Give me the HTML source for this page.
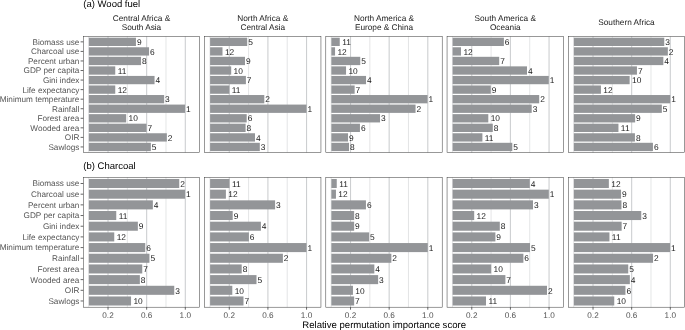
<!DOCTYPE html>
<html><head><meta charset="utf-8"><title>Relative permutation importance</title>
<style>html,body{margin:0;padding:0;background:#fff}svg{display:block}</style></head>
<body>
<svg width="685" height="330" viewBox="0 0 685 330" font-family="'Liberation Sans', Arial, sans-serif" text-rendering="geometricPrecision">
<rect width="685" height="330" fill="#fff"/>
<line x1="88.7" x2="88.7" y1="36.45" y2="152.4" stroke="#cdcfd1" stroke-width="0.55"/>
<line x1="108.02" x2="108.02" y1="36.45" y2="152.4" stroke="#cdcfd1" stroke-width="1.1"/>
<line x1="127.34" x2="127.34" y1="36.45" y2="152.4" stroke="#cdcfd1" stroke-width="0.55"/>
<line x1="146.66" x2="146.66" y1="36.45" y2="152.4" stroke="#cdcfd1" stroke-width="1.1"/>
<line x1="165.98" x2="165.98" y1="36.45" y2="152.4" stroke="#cdcfd1" stroke-width="0.55"/>
<line x1="185.3" x2="185.3" y1="36.45" y2="152.4" stroke="#cdcfd1" stroke-width="1.1"/>
<rect x="88.85" y="37.7" width="47.1" height="8.3" fill="#939598"/>
<text x="136.9" y="45.05" font-size="8.4" fill="#1a1a1a">9</text>
<line x1="80.6" x2="83.3" y1="41.85" y2="41.85" stroke="#333333" stroke-width="0.75"/>
<text x="79.35" y="44.75" font-size="8.2" fill="#555555" text-anchor="end">Biomass use</text>
<rect x="88.85" y="47.26" width="60.2" height="8.3" fill="#939598"/>
<text x="150" y="54.61" font-size="8.4" fill="#1a1a1a">6</text>
<line x1="80.6" x2="83.3" y1="51.41" y2="51.41" stroke="#333333" stroke-width="0.75"/>
<text x="79.35" y="54.3" font-size="8.2" fill="#555555" text-anchor="end">Charcoal use</text>
<rect x="88.85" y="56.81" width="52.2" height="8.3" fill="#939598"/>
<text x="142" y="64.16" font-size="8.4" fill="#1a1a1a">8</text>
<line x1="80.6" x2="83.3" y1="60.96" y2="60.96" stroke="#333333" stroke-width="0.75"/>
<text x="79.35" y="63.86" font-size="8.2" fill="#555555" text-anchor="end">Percent urban</text>
<rect x="88.85" y="66.36" width="26.4" height="8.3" fill="#939598"/>
<text x="117.65" y="73.72" font-size="8.4" fill="#1a1a1a">11</text>
<line x1="80.6" x2="83.3" y1="70.52" y2="70.52" stroke="#333333" stroke-width="0.75"/>
<text x="79.35" y="73.42" font-size="8.2" fill="#555555" text-anchor="end">GDP per capita</text>
<rect x="88.85" y="75.92" width="65.7" height="8.3" fill="#939598"/>
<text x="155.5" y="83.27" font-size="8.4" fill="#1a1a1a">4</text>
<line x1="80.6" x2="83.3" y1="80.07" y2="80.07" stroke="#333333" stroke-width="0.75"/>
<text x="79.35" y="82.97" font-size="8.2" fill="#555555" text-anchor="end">Gini index</text>
<rect x="88.85" y="85.47" width="26.4" height="8.3" fill="#939598"/>
<text x="117.65" y="92.83" font-size="8.4" fill="#1a1a1a">12</text>
<line x1="80.6" x2="83.3" y1="89.62" y2="89.62" stroke="#333333" stroke-width="0.75"/>
<text x="79.35" y="92.53" font-size="8.2" fill="#555555" text-anchor="end">Life expectancy</text>
<rect x="88.85" y="95.03" width="75.3" height="8.3" fill="#939598"/>
<text x="165.1" y="102.38" font-size="8.4" fill="#1a1a1a">3</text>
<line x1="80.6" x2="83.3" y1="99.18" y2="99.18" stroke="#333333" stroke-width="0.75"/>
<text x="79.35" y="102.08" font-size="8.2" fill="#555555" text-anchor="end">Minimum temperature</text>
<rect x="88.85" y="104.58" width="96.2" height="8.3" fill="#939598"/>
<text x="186" y="111.93" font-size="8.4" fill="#1a1a1a">1</text>
<line x1="80.6" x2="83.3" y1="108.73" y2="108.73" stroke="#333333" stroke-width="0.75"/>
<text x="79.35" y="111.63" font-size="8.2" fill="#555555" text-anchor="end">Rainfall</text>
<rect x="88.85" y="114.14" width="37.3" height="8.3" fill="#939598"/>
<text x="128.55" y="121.49" font-size="8.4" fill="#1a1a1a">10</text>
<line x1="80.6" x2="83.3" y1="118.29" y2="118.29" stroke="#333333" stroke-width="0.75"/>
<text x="79.35" y="121.19" font-size="8.2" fill="#555555" text-anchor="end">Forest area</text>
<rect x="88.85" y="123.69" width="57.7" height="8.3" fill="#939598"/>
<text x="147.5" y="131.04" font-size="8.4" fill="#1a1a1a">7</text>
<line x1="80.6" x2="83.3" y1="127.84" y2="127.84" stroke="#333333" stroke-width="0.75"/>
<text x="79.35" y="130.75" font-size="8.2" fill="#555555" text-anchor="end">Wooded area</text>
<rect x="88.85" y="133.25" width="78" height="8.3" fill="#939598"/>
<text x="167.8" y="140.6" font-size="8.4" fill="#1a1a1a">2</text>
<line x1="80.6" x2="83.3" y1="137.4" y2="137.4" stroke="#333333" stroke-width="0.75"/>
<text x="79.35" y="140.3" font-size="8.2" fill="#555555" text-anchor="end">OIR</text>
<rect x="88.85" y="142.8" width="62" height="8.3" fill="#939598"/>
<text x="151.8" y="150.15" font-size="8.4" fill="#1a1a1a">5</text>
<line x1="80.6" x2="83.3" y1="146.95" y2="146.95" stroke="#333333" stroke-width="0.75"/>
<text x="79.35" y="149.85" font-size="8.2" fill="#555555" text-anchor="end">Sawlogs</text>
<rect x="83.3" y="36.45" width="116.4" height="115.95" fill="none" stroke="#333333" stroke-width="0.5"/>
<line x1="88.7" x2="88.7" y1="177.3" y2="307.2" stroke="#cdcfd1" stroke-width="0.55"/>
<line x1="108.02" x2="108.02" y1="177.3" y2="307.2" stroke="#cdcfd1" stroke-width="1.1"/>
<line x1="127.34" x2="127.34" y1="177.3" y2="307.2" stroke="#cdcfd1" stroke-width="0.55"/>
<line x1="146.66" x2="146.66" y1="177.3" y2="307.2" stroke="#cdcfd1" stroke-width="1.1"/>
<line x1="165.98" x2="165.98" y1="177.3" y2="307.2" stroke="#cdcfd1" stroke-width="0.55"/>
<line x1="185.3" x2="185.3" y1="177.3" y2="307.2" stroke="#cdcfd1" stroke-width="1.1"/>
<rect x="88.85" y="178.97" width="90.4" height="9.05" fill="#939598"/>
<text x="180.2" y="186.7" font-size="8.4" fill="#1a1a1a">2</text>
<line x1="80.6" x2="83.3" y1="183.5" y2="183.5" stroke="#333333" stroke-width="0.75"/>
<text x="79.35" y="186.4" font-size="8.2" fill="#555555" text-anchor="end">Biomass use</text>
<rect x="88.85" y="189.66" width="96.2" height="9.05" fill="#939598"/>
<text x="186" y="197.38" font-size="8.4" fill="#1a1a1a">1</text>
<line x1="80.6" x2="83.3" y1="194.18" y2="194.18" stroke="#333333" stroke-width="0.75"/>
<text x="79.35" y="197.08" font-size="8.2" fill="#555555" text-anchor="end">Charcoal use</text>
<rect x="88.85" y="200.34" width="64" height="9.05" fill="#939598"/>
<text x="153.8" y="208.06" font-size="8.4" fill="#1a1a1a">4</text>
<line x1="80.6" x2="83.3" y1="204.86" y2="204.86" stroke="#333333" stroke-width="0.75"/>
<text x="79.35" y="207.76" font-size="8.2" fill="#555555" text-anchor="end">Percent urban</text>
<rect x="88.85" y="211.01" width="27.4" height="9.05" fill="#939598"/>
<text x="118.65" y="218.74" font-size="8.4" fill="#1a1a1a">11</text>
<line x1="80.6" x2="83.3" y1="215.54" y2="215.54" stroke="#333333" stroke-width="0.75"/>
<text x="79.35" y="218.44" font-size="8.2" fill="#555555" text-anchor="end">GDP per capita</text>
<rect x="88.85" y="221.69" width="49" height="9.05" fill="#939598"/>
<text x="138.8" y="229.42" font-size="8.4" fill="#1a1a1a">9</text>
<line x1="80.6" x2="83.3" y1="226.22" y2="226.22" stroke="#333333" stroke-width="0.75"/>
<text x="79.35" y="229.12" font-size="8.2" fill="#555555" text-anchor="end">Gini index</text>
<rect x="88.85" y="232.38" width="25.4" height="9.05" fill="#939598"/>
<text x="116.65" y="240.1" font-size="8.4" fill="#1a1a1a">12</text>
<line x1="80.6" x2="83.3" y1="236.9" y2="236.9" stroke="#333333" stroke-width="0.75"/>
<text x="79.35" y="239.8" font-size="8.2" fill="#555555" text-anchor="end">Life expectancy</text>
<rect x="88.85" y="243.05" width="56.4" height="9.05" fill="#939598"/>
<text x="146.2" y="250.78" font-size="8.4" fill="#1a1a1a">6</text>
<line x1="80.6" x2="83.3" y1="247.58" y2="247.58" stroke="#333333" stroke-width="0.75"/>
<text x="79.35" y="250.48" font-size="8.2" fill="#555555" text-anchor="end">Minimum temperature</text>
<rect x="88.85" y="253.73" width="60.6" height="9.05" fill="#939598"/>
<text x="150.4" y="261.46" font-size="8.4" fill="#1a1a1a">5</text>
<line x1="80.6" x2="83.3" y1="258.26" y2="258.26" stroke="#333333" stroke-width="0.75"/>
<text x="79.35" y="261.16" font-size="8.2" fill="#555555" text-anchor="end">Rainfall</text>
<rect x="88.85" y="264.42" width="53.4" height="9.05" fill="#939598"/>
<text x="143.2" y="272.14" font-size="8.4" fill="#1a1a1a">7</text>
<line x1="80.6" x2="83.3" y1="268.94" y2="268.94" stroke="#333333" stroke-width="0.75"/>
<text x="79.35" y="271.84" font-size="8.2" fill="#555555" text-anchor="end">Forest area</text>
<rect x="88.85" y="275.1" width="51" height="9.05" fill="#939598"/>
<text x="140.8" y="282.82" font-size="8.4" fill="#1a1a1a">8</text>
<line x1="80.6" x2="83.3" y1="279.62" y2="279.62" stroke="#333333" stroke-width="0.75"/>
<text x="79.35" y="282.52" font-size="8.2" fill="#555555" text-anchor="end">Wooded area</text>
<rect x="88.85" y="285.78" width="85.4" height="9.05" fill="#939598"/>
<text x="175.2" y="293.5" font-size="8.4" fill="#1a1a1a">3</text>
<line x1="80.6" x2="83.3" y1="290.3" y2="290.3" stroke="#333333" stroke-width="0.75"/>
<text x="79.35" y="293.2" font-size="8.2" fill="#555555" text-anchor="end">OIR</text>
<rect x="88.85" y="296.46" width="42.2" height="9.05" fill="#939598"/>
<text x="133.45" y="304.18" font-size="8.4" fill="#1a1a1a">10</text>
<line x1="80.6" x2="83.3" y1="300.98" y2="300.98" stroke="#333333" stroke-width="0.75"/>
<text x="79.35" y="303.88" font-size="8.2" fill="#555555" text-anchor="end">Sawlogs</text>
<rect x="83.3" y="177.3" width="116.4" height="129.9" fill="none" stroke="#333333" stroke-width="0.5"/>
<line x1="108.02" x2="108.02" y1="307.2" y2="309.7" stroke="#333333" stroke-width="0.75"/>
<text x="108.02" y="317.7" font-size="8.2" fill="#555555" text-anchor="middle">0.2</text>
<line x1="146.66" x2="146.66" y1="307.2" y2="309.7" stroke="#333333" stroke-width="0.75"/>
<text x="146.66" y="317.7" font-size="8.2" fill="#555555" text-anchor="middle">0.6</text>
<line x1="185.3" x2="185.3" y1="307.2" y2="309.7" stroke="#333333" stroke-width="0.75"/>
<text x="185.3" y="317.7" font-size="8.2" fill="#555555" text-anchor="middle">1.0</text>
<text x="141.5" y="21.3" font-size="8.25" fill="#1a1a1a" text-anchor="middle">Central Africa &amp;</text>
<text x="141.5" y="29.7" font-size="8.25" fill="#1a1a1a" text-anchor="middle">South Asia</text>
<line x1="209.95" x2="209.95" y1="36.45" y2="152.4" stroke="#cdcfd1" stroke-width="0.55"/>
<line x1="229.27" x2="229.27" y1="36.45" y2="152.4" stroke="#cdcfd1" stroke-width="1.1"/>
<line x1="248.59" x2="248.59" y1="36.45" y2="152.4" stroke="#cdcfd1" stroke-width="0.55"/>
<line x1="267.91" x2="267.91" y1="36.45" y2="152.4" stroke="#cdcfd1" stroke-width="1.1"/>
<line x1="287.23" x2="287.23" y1="36.45" y2="152.4" stroke="#cdcfd1" stroke-width="0.55"/>
<line x1="306.55" x2="306.55" y1="36.45" y2="152.4" stroke="#cdcfd1" stroke-width="1.1"/>
<rect x="210.1" y="37.7" width="37.1" height="8.3" fill="#939598"/>
<text x="248.15" y="45.05" font-size="8.4" fill="#1a1a1a">5</text>
<rect x="210.1" y="47.26" width="12.4" height="8.3" fill="#939598"/>
<text x="224.9" y="54.61" font-size="8.4" fill="#1a1a1a">12</text>
<rect x="210.1" y="56.81" width="34.9" height="8.3" fill="#939598"/>
<text x="245.95" y="64.16" font-size="8.4" fill="#1a1a1a">9</text>
<rect x="210.1" y="66.36" width="21.1" height="8.3" fill="#939598"/>
<text x="233.6" y="73.72" font-size="8.4" fill="#1a1a1a">10</text>
<rect x="210.1" y="75.92" width="35.8" height="8.3" fill="#939598"/>
<text x="246.85" y="83.27" font-size="8.4" fill="#1a1a1a">7</text>
<rect x="210.1" y="85.47" width="19.3" height="8.3" fill="#939598"/>
<text x="231.8" y="92.83" font-size="8.4" fill="#1a1a1a">11</text>
<rect x="210.1" y="95.03" width="54.2" height="8.3" fill="#939598"/>
<text x="265.25" y="102.38" font-size="8.4" fill="#1a1a1a">2</text>
<rect x="210.1" y="104.58" width="96.4" height="8.3" fill="#939598"/>
<text x="307.45" y="111.93" font-size="8.4" fill="#1a1a1a">1</text>
<rect x="210.1" y="114.14" width="36.6" height="8.3" fill="#939598"/>
<text x="247.65" y="121.49" font-size="8.4" fill="#1a1a1a">6</text>
<rect x="210.1" y="123.69" width="35.5" height="8.3" fill="#939598"/>
<text x="246.55" y="131.04" font-size="8.4" fill="#1a1a1a">8</text>
<rect x="210.1" y="133.25" width="44.9" height="8.3" fill="#939598"/>
<text x="255.95" y="140.6" font-size="8.4" fill="#1a1a1a">4</text>
<rect x="210.1" y="142.8" width="49.7" height="8.3" fill="#939598"/>
<text x="260.75" y="150.15" font-size="8.4" fill="#1a1a1a">3</text>
<rect x="204.55" y="36.45" width="116.4" height="115.95" fill="none" stroke="#333333" stroke-width="0.5"/>
<line x1="209.95" x2="209.95" y1="177.3" y2="307.2" stroke="#cdcfd1" stroke-width="0.55"/>
<line x1="229.27" x2="229.27" y1="177.3" y2="307.2" stroke="#cdcfd1" stroke-width="1.1"/>
<line x1="248.59" x2="248.59" y1="177.3" y2="307.2" stroke="#cdcfd1" stroke-width="0.55"/>
<line x1="267.91" x2="267.91" y1="177.3" y2="307.2" stroke="#cdcfd1" stroke-width="1.1"/>
<line x1="287.23" x2="287.23" y1="177.3" y2="307.2" stroke="#cdcfd1" stroke-width="0.55"/>
<line x1="306.55" x2="306.55" y1="177.3" y2="307.2" stroke="#cdcfd1" stroke-width="1.1"/>
<rect x="210.1" y="178.97" width="19.4" height="9.05" fill="#939598"/>
<text x="231.9" y="186.7" font-size="8.4" fill="#1a1a1a">11</text>
<rect x="210.1" y="189.66" width="15.8" height="9.05" fill="#939598"/>
<text x="228.3" y="197.38" font-size="8.4" fill="#1a1a1a">12</text>
<rect x="210.1" y="200.34" width="65" height="9.05" fill="#939598"/>
<text x="276.05" y="208.06" font-size="8.4" fill="#1a1a1a">3</text>
<rect x="210.1" y="211.01" width="22.6" height="9.05" fill="#939598"/>
<text x="233.65" y="218.74" font-size="8.4" fill="#1a1a1a">9</text>
<rect x="210.1" y="221.69" width="50.8" height="9.05" fill="#939598"/>
<text x="261.85" y="229.42" font-size="8.4" fill="#1a1a1a">4</text>
<rect x="210.1" y="232.38" width="38.8" height="9.05" fill="#939598"/>
<text x="249.85" y="240.1" font-size="8.4" fill="#1a1a1a">6</text>
<rect x="210.1" y="243.05" width="96.4" height="9.05" fill="#939598"/>
<text x="307.45" y="250.78" font-size="8.4" fill="#1a1a1a">1</text>
<rect x="210.1" y="253.73" width="72.8" height="9.05" fill="#939598"/>
<text x="283.85" y="261.46" font-size="8.4" fill="#1a1a1a">2</text>
<rect x="210.1" y="264.42" width="31.6" height="9.05" fill="#939598"/>
<text x="242.65" y="272.14" font-size="8.4" fill="#1a1a1a">8</text>
<rect x="210.1" y="275.1" width="46.4" height="9.05" fill="#939598"/>
<text x="257.45" y="282.82" font-size="8.4" fill="#1a1a1a">5</text>
<rect x="210.1" y="285.78" width="22.2" height="9.05" fill="#939598"/>
<text x="234.7" y="293.5" font-size="8.4" fill="#1a1a1a">10</text>
<rect x="210.1" y="296.46" width="33.4" height="9.05" fill="#939598"/>
<text x="244.45" y="304.18" font-size="8.4" fill="#1a1a1a">7</text>
<rect x="204.55" y="177.3" width="116.4" height="129.9" fill="none" stroke="#333333" stroke-width="0.5"/>
<line x1="229.27" x2="229.27" y1="307.2" y2="309.7" stroke="#333333" stroke-width="0.75"/>
<text x="229.27" y="317.7" font-size="8.2" fill="#555555" text-anchor="middle">0.2</text>
<line x1="267.91" x2="267.91" y1="307.2" y2="309.7" stroke="#333333" stroke-width="0.75"/>
<text x="267.91" y="317.7" font-size="8.2" fill="#555555" text-anchor="middle">0.6</text>
<line x1="306.55" x2="306.55" y1="307.2" y2="309.7" stroke="#333333" stroke-width="0.75"/>
<text x="306.55" y="317.7" font-size="8.2" fill="#555555" text-anchor="middle">1.0</text>
<text x="262.75" y="21.3" font-size="8.25" fill="#1a1a1a" text-anchor="middle">North Africa &amp;</text>
<text x="262.75" y="29.7" font-size="8.25" fill="#1a1a1a" text-anchor="middle">Central Asia</text>
<line x1="331.2" x2="331.2" y1="36.45" y2="152.4" stroke="#cdcfd1" stroke-width="0.55"/>
<line x1="350.52" x2="350.52" y1="36.45" y2="152.4" stroke="#cdcfd1" stroke-width="1.1"/>
<line x1="369.84" x2="369.84" y1="36.45" y2="152.4" stroke="#cdcfd1" stroke-width="0.55"/>
<line x1="389.16" x2="389.16" y1="36.45" y2="152.4" stroke="#cdcfd1" stroke-width="1.1"/>
<line x1="408.48" x2="408.48" y1="36.45" y2="152.4" stroke="#cdcfd1" stroke-width="0.55"/>
<line x1="427.8" x2="427.8" y1="36.45" y2="152.4" stroke="#cdcfd1" stroke-width="1.1"/>
<rect x="331.35" y="37.7" width="8.4" height="8.3" fill="#939598"/>
<text x="342.15" y="45.05" font-size="8.4" fill="#1a1a1a">11</text>
<rect x="331.35" y="47.26" width="3.7" height="8.3" fill="#939598"/>
<text x="337.45" y="54.61" font-size="8.4" fill="#1a1a1a">12</text>
<rect x="331.35" y="56.81" width="28.9" height="8.3" fill="#939598"/>
<text x="361.2" y="64.16" font-size="8.4" fill="#1a1a1a">5</text>
<rect x="331.35" y="66.36" width="14.7" height="8.3" fill="#939598"/>
<text x="348.45" y="73.72" font-size="8.4" fill="#1a1a1a">10</text>
<rect x="331.35" y="75.92" width="34.7" height="8.3" fill="#939598"/>
<text x="367" y="83.27" font-size="8.4" fill="#1a1a1a">4</text>
<rect x="331.35" y="85.47" width="23.3" height="8.3" fill="#939598"/>
<text x="355.6" y="92.83" font-size="8.4" fill="#1a1a1a">7</text>
<rect x="331.35" y="95.03" width="96.2" height="8.3" fill="#939598"/>
<text x="428.5" y="102.38" font-size="8.4" fill="#1a1a1a">1</text>
<rect x="331.35" y="104.58" width="84.2" height="8.3" fill="#939598"/>
<text x="416.5" y="111.93" font-size="8.4" fill="#1a1a1a">2</text>
<rect x="331.35" y="114.14" width="48.7" height="8.3" fill="#939598"/>
<text x="381" y="121.49" font-size="8.4" fill="#1a1a1a">3</text>
<rect x="331.35" y="123.69" width="28.6" height="8.3" fill="#939598"/>
<text x="360.9" y="131.04" font-size="8.4" fill="#1a1a1a">6</text>
<rect x="331.35" y="133.25" width="16.7" height="8.3" fill="#939598"/>
<text x="349" y="140.6" font-size="8.4" fill="#1a1a1a">9</text>
<rect x="331.35" y="142.8" width="17.7" height="8.3" fill="#939598"/>
<text x="350" y="150.15" font-size="8.4" fill="#1a1a1a">8</text>
<rect x="325.8" y="36.45" width="116.4" height="115.95" fill="none" stroke="#333333" stroke-width="0.5"/>
<line x1="331.2" x2="331.2" y1="177.3" y2="307.2" stroke="#cdcfd1" stroke-width="0.55"/>
<line x1="350.52" x2="350.52" y1="177.3" y2="307.2" stroke="#cdcfd1" stroke-width="1.1"/>
<line x1="369.84" x2="369.84" y1="177.3" y2="307.2" stroke="#cdcfd1" stroke-width="0.55"/>
<line x1="389.16" x2="389.16" y1="177.3" y2="307.2" stroke="#cdcfd1" stroke-width="1.1"/>
<line x1="408.48" x2="408.48" y1="177.3" y2="307.2" stroke="#cdcfd1" stroke-width="0.55"/>
<line x1="427.8" x2="427.8" y1="177.3" y2="307.2" stroke="#cdcfd1" stroke-width="1.1"/>
<rect x="331.35" y="178.97" width="5.4" height="9.05" fill="#939598"/>
<text x="339.15" y="186.7" font-size="8.4" fill="#1a1a1a">11</text>
<rect x="331.35" y="189.66" width="4.6" height="9.05" fill="#939598"/>
<text x="338.35" y="197.38" font-size="8.4" fill="#1a1a1a">12</text>
<rect x="331.35" y="200.34" width="34.6" height="9.05" fill="#939598"/>
<text x="366.9" y="208.06" font-size="8.4" fill="#1a1a1a">6</text>
<rect x="331.35" y="211.01" width="22.8" height="9.05" fill="#939598"/>
<text x="355.1" y="218.74" font-size="8.4" fill="#1a1a1a">8</text>
<rect x="331.35" y="221.69" width="22.8" height="9.05" fill="#939598"/>
<text x="355.1" y="229.42" font-size="8.4" fill="#1a1a1a">9</text>
<rect x="331.35" y="232.38" width="37.8" height="9.05" fill="#939598"/>
<text x="370.1" y="240.1" font-size="8.4" fill="#1a1a1a">5</text>
<rect x="331.35" y="243.05" width="96.4" height="9.05" fill="#939598"/>
<text x="428.7" y="250.78" font-size="8.4" fill="#1a1a1a">1</text>
<rect x="331.35" y="253.73" width="60" height="9.05" fill="#939598"/>
<text x="392.3" y="261.46" font-size="8.4" fill="#1a1a1a">2</text>
<rect x="331.35" y="264.42" width="43" height="9.05" fill="#939598"/>
<text x="375.3" y="272.14" font-size="8.4" fill="#1a1a1a">4</text>
<rect x="331.35" y="275.1" width="46.8" height="9.05" fill="#939598"/>
<text x="379.1" y="282.82" font-size="8.4" fill="#1a1a1a">3</text>
<rect x="331.35" y="285.78" width="21.6" height="9.05" fill="#939598"/>
<text x="355.35" y="293.5" font-size="8.4" fill="#1a1a1a">10</text>
<rect x="331.35" y="296.46" width="22.8" height="9.05" fill="#939598"/>
<text x="355.1" y="304.18" font-size="8.4" fill="#1a1a1a">7</text>
<rect x="325.8" y="177.3" width="116.4" height="129.9" fill="none" stroke="#333333" stroke-width="0.5"/>
<line x1="350.52" x2="350.52" y1="307.2" y2="309.7" stroke="#333333" stroke-width="0.75"/>
<text x="350.52" y="317.7" font-size="8.2" fill="#555555" text-anchor="middle">0.2</text>
<line x1="389.16" x2="389.16" y1="307.2" y2="309.7" stroke="#333333" stroke-width="0.75"/>
<text x="389.16" y="317.7" font-size="8.2" fill="#555555" text-anchor="middle">0.6</text>
<line x1="427.8" x2="427.8" y1="307.2" y2="309.7" stroke="#333333" stroke-width="0.75"/>
<text x="427.8" y="317.7" font-size="8.2" fill="#555555" text-anchor="middle">1.0</text>
<text x="384" y="21.3" font-size="8.25" fill="#1a1a1a" text-anchor="middle">North America &amp;</text>
<text x="384" y="29.7" font-size="8.25" fill="#1a1a1a" text-anchor="middle">Europe &amp; China</text>
<line x1="452.45" x2="452.45" y1="36.45" y2="152.4" stroke="#cdcfd1" stroke-width="0.55"/>
<line x1="471.77" x2="471.77" y1="36.45" y2="152.4" stroke="#cdcfd1" stroke-width="1.1"/>
<line x1="491.09" x2="491.09" y1="36.45" y2="152.4" stroke="#cdcfd1" stroke-width="0.55"/>
<line x1="510.41" x2="510.41" y1="36.45" y2="152.4" stroke="#cdcfd1" stroke-width="1.1"/>
<line x1="529.73" x2="529.73" y1="36.45" y2="152.4" stroke="#cdcfd1" stroke-width="0.55"/>
<line x1="549.05" x2="549.05" y1="36.45" y2="152.4" stroke="#cdcfd1" stroke-width="1.1"/>
<rect x="452.6" y="37.7" width="51.3" height="8.3" fill="#939598"/>
<text x="504.85" y="45.05" font-size="8.4" fill="#1a1a1a">6</text>
<rect x="452.6" y="47.26" width="8.4" height="8.3" fill="#939598"/>
<text x="463.4" y="54.61" font-size="8.4" fill="#1a1a1a">12</text>
<rect x="452.6" y="56.81" width="46.6" height="8.3" fill="#939598"/>
<text x="500.15" y="64.16" font-size="8.4" fill="#1a1a1a">7</text>
<rect x="452.6" y="66.36" width="74.4" height="8.3" fill="#939598"/>
<text x="527.95" y="73.72" font-size="8.4" fill="#1a1a1a">4</text>
<rect x="452.6" y="75.92" width="96.2" height="8.3" fill="#939598"/>
<text x="549.75" y="83.27" font-size="8.4" fill="#1a1a1a">1</text>
<rect x="452.6" y="85.47" width="38.2" height="8.3" fill="#939598"/>
<text x="491.75" y="92.83" font-size="8.4" fill="#1a1a1a">9</text>
<rect x="452.6" y="95.03" width="86.6" height="8.3" fill="#939598"/>
<text x="540.15" y="102.38" font-size="8.4" fill="#1a1a1a">2</text>
<rect x="452.6" y="104.58" width="79.1" height="8.3" fill="#939598"/>
<text x="532.65" y="111.93" font-size="8.4" fill="#1a1a1a">3</text>
<rect x="452.6" y="114.14" width="35.7" height="8.3" fill="#939598"/>
<text x="490.7" y="121.49" font-size="8.4" fill="#1a1a1a">10</text>
<rect x="452.6" y="123.69" width="40.2" height="8.3" fill="#939598"/>
<text x="493.75" y="131.04" font-size="8.4" fill="#1a1a1a">8</text>
<rect x="452.6" y="133.25" width="29.8" height="8.3" fill="#939598"/>
<text x="484.8" y="140.6" font-size="8.4" fill="#1a1a1a">11</text>
<rect x="452.6" y="142.8" width="59.7" height="8.3" fill="#939598"/>
<text x="513.25" y="150.15" font-size="8.4" fill="#1a1a1a">5</text>
<rect x="447.05" y="36.45" width="116.4" height="115.95" fill="none" stroke="#333333" stroke-width="0.5"/>
<line x1="452.45" x2="452.45" y1="177.3" y2="307.2" stroke="#cdcfd1" stroke-width="0.55"/>
<line x1="471.77" x2="471.77" y1="177.3" y2="307.2" stroke="#cdcfd1" stroke-width="1.1"/>
<line x1="491.09" x2="491.09" y1="177.3" y2="307.2" stroke="#cdcfd1" stroke-width="0.55"/>
<line x1="510.41" x2="510.41" y1="177.3" y2="307.2" stroke="#cdcfd1" stroke-width="1.1"/>
<line x1="529.73" x2="529.73" y1="177.3" y2="307.2" stroke="#cdcfd1" stroke-width="0.55"/>
<line x1="549.05" x2="549.05" y1="177.3" y2="307.2" stroke="#cdcfd1" stroke-width="1.1"/>
<rect x="452.6" y="178.97" width="77.2" height="9.05" fill="#939598"/>
<text x="530.75" y="186.7" font-size="8.4" fill="#1a1a1a">4</text>
<rect x="452.6" y="189.66" width="96.2" height="9.05" fill="#939598"/>
<text x="549.75" y="197.38" font-size="8.4" fill="#1a1a1a">1</text>
<rect x="452.6" y="200.34" width="80.4" height="9.05" fill="#939598"/>
<text x="533.95" y="208.06" font-size="8.4" fill="#1a1a1a">3</text>
<rect x="452.6" y="211.01" width="21.6" height="9.05" fill="#939598"/>
<text x="476.6" y="218.74" font-size="8.4" fill="#1a1a1a">12</text>
<rect x="452.6" y="221.69" width="47.2" height="9.05" fill="#939598"/>
<text x="500.75" y="229.42" font-size="8.4" fill="#1a1a1a">8</text>
<rect x="452.6" y="232.38" width="42.8" height="9.05" fill="#939598"/>
<text x="496.35" y="240.1" font-size="8.4" fill="#1a1a1a">9</text>
<rect x="452.6" y="243.05" width="77.4" height="9.05" fill="#939598"/>
<text x="530.95" y="250.78" font-size="8.4" fill="#1a1a1a">5</text>
<rect x="452.6" y="253.73" width="70.8" height="9.05" fill="#939598"/>
<text x="524.35" y="261.46" font-size="8.4" fill="#1a1a1a">6</text>
<rect x="452.6" y="264.42" width="38.6" height="9.05" fill="#939598"/>
<text x="493.6" y="272.14" font-size="8.4" fill="#1a1a1a">10</text>
<rect x="452.6" y="275.1" width="52.8" height="9.05" fill="#939598"/>
<text x="506.35" y="282.82" font-size="8.4" fill="#1a1a1a">7</text>
<rect x="452.6" y="285.78" width="94.4" height="9.05" fill="#939598"/>
<text x="547.95" y="293.5" font-size="8.4" fill="#1a1a1a">2</text>
<rect x="452.6" y="296.46" width="33.4" height="9.05" fill="#939598"/>
<text x="488.4" y="304.18" font-size="8.4" fill="#1a1a1a">11</text>
<rect x="447.05" y="177.3" width="116.4" height="129.9" fill="none" stroke="#333333" stroke-width="0.5"/>
<line x1="471.77" x2="471.77" y1="307.2" y2="309.7" stroke="#333333" stroke-width="0.75"/>
<text x="471.77" y="317.7" font-size="8.2" fill="#555555" text-anchor="middle">0.2</text>
<line x1="510.41" x2="510.41" y1="307.2" y2="309.7" stroke="#333333" stroke-width="0.75"/>
<text x="510.41" y="317.7" font-size="8.2" fill="#555555" text-anchor="middle">0.6</text>
<line x1="549.05" x2="549.05" y1="307.2" y2="309.7" stroke="#333333" stroke-width="0.75"/>
<text x="549.05" y="317.7" font-size="8.2" fill="#555555" text-anchor="middle">1.0</text>
<text x="505.25" y="21.3" font-size="8.25" fill="#1a1a1a" text-anchor="middle">South America &amp;</text>
<text x="505.25" y="29.7" font-size="8.25" fill="#1a1a1a" text-anchor="middle">Oceania</text>
<line x1="573.7" x2="573.7" y1="36.45" y2="152.4" stroke="#cdcfd1" stroke-width="0.55"/>
<line x1="593.02" x2="593.02" y1="36.45" y2="152.4" stroke="#cdcfd1" stroke-width="1.1"/>
<line x1="612.34" x2="612.34" y1="36.45" y2="152.4" stroke="#cdcfd1" stroke-width="0.55"/>
<line x1="631.66" x2="631.66" y1="36.45" y2="152.4" stroke="#cdcfd1" stroke-width="1.1"/>
<line x1="650.98" x2="650.98" y1="36.45" y2="152.4" stroke="#cdcfd1" stroke-width="0.55"/>
<line x1="670.3" x2="670.3" y1="36.45" y2="152.4" stroke="#cdcfd1" stroke-width="1.1"/>
<rect x="573.85" y="37.7" width="90.4" height="8.3" fill="#939598"/>
<text x="665.2" y="45.05" font-size="8.4" fill="#1a1a1a">3</text>
<rect x="573.85" y="47.26" width="94" height="8.3" fill="#939598"/>
<text x="668.8" y="54.61" font-size="8.4" fill="#1a1a1a">2</text>
<rect x="573.85" y="56.81" width="89.5" height="8.3" fill="#939598"/>
<text x="664.3" y="64.16" font-size="8.4" fill="#1a1a1a">4</text>
<rect x="573.85" y="66.36" width="63.1" height="8.3" fill="#939598"/>
<text x="637.9" y="73.72" font-size="8.4" fill="#1a1a1a">7</text>
<rect x="573.85" y="75.92" width="55.8" height="8.3" fill="#939598"/>
<text x="632.05" y="83.27" font-size="8.4" fill="#1a1a1a">10</text>
<rect x="573.85" y="85.47" width="27.1" height="8.3" fill="#939598"/>
<text x="603.35" y="92.83" font-size="8.4" fill="#1a1a1a">12</text>
<rect x="573.85" y="95.03" width="96.4" height="8.3" fill="#939598"/>
<text x="671.2" y="102.38" font-size="8.4" fill="#1a1a1a">1</text>
<rect x="573.85" y="104.58" width="88" height="8.3" fill="#939598"/>
<text x="662.8" y="111.93" font-size="8.4" fill="#1a1a1a">5</text>
<rect x="573.85" y="114.14" width="61.3" height="8.3" fill="#939598"/>
<text x="636.1" y="121.49" font-size="8.4" fill="#1a1a1a">9</text>
<rect x="573.85" y="123.69" width="44.6" height="8.3" fill="#939598"/>
<text x="620.85" y="131.04" font-size="8.4" fill="#1a1a1a">11</text>
<rect x="573.85" y="133.25" width="61.1" height="8.3" fill="#939598"/>
<text x="635.9" y="140.6" font-size="8.4" fill="#1a1a1a">8</text>
<rect x="573.85" y="142.8" width="79.1" height="8.3" fill="#939598"/>
<text x="653.9" y="150.15" font-size="8.4" fill="#1a1a1a">6</text>
<rect x="568.3" y="36.45" width="116.4" height="115.95" fill="none" stroke="#333333" stroke-width="0.5"/>
<line x1="573.7" x2="573.7" y1="177.3" y2="307.2" stroke="#cdcfd1" stroke-width="0.55"/>
<line x1="593.02" x2="593.02" y1="177.3" y2="307.2" stroke="#cdcfd1" stroke-width="1.1"/>
<line x1="612.34" x2="612.34" y1="177.3" y2="307.2" stroke="#cdcfd1" stroke-width="0.55"/>
<line x1="631.66" x2="631.66" y1="177.3" y2="307.2" stroke="#cdcfd1" stroke-width="1.1"/>
<line x1="650.98" x2="650.98" y1="177.3" y2="307.2" stroke="#cdcfd1" stroke-width="0.55"/>
<line x1="670.3" x2="670.3" y1="177.3" y2="307.2" stroke="#cdcfd1" stroke-width="1.1"/>
<rect x="573.85" y="178.97" width="35" height="9.05" fill="#939598"/>
<text x="611.25" y="186.7" font-size="8.4" fill="#1a1a1a">12</text>
<rect x="573.85" y="189.66" width="47.2" height="9.05" fill="#939598"/>
<text x="622" y="197.38" font-size="8.4" fill="#1a1a1a">9</text>
<rect x="573.85" y="200.34" width="47.6" height="9.05" fill="#939598"/>
<text x="622.4" y="208.06" font-size="8.4" fill="#1a1a1a">8</text>
<rect x="573.85" y="211.01" width="67.4" height="9.05" fill="#939598"/>
<text x="642.2" y="218.74" font-size="8.4" fill="#1a1a1a">3</text>
<rect x="573.85" y="221.69" width="47.8" height="9.05" fill="#939598"/>
<text x="622.6" y="229.42" font-size="8.4" fill="#1a1a1a">7</text>
<rect x="573.85" y="232.38" width="35.6" height="9.05" fill="#939598"/>
<text x="611.85" y="240.1" font-size="8.4" fill="#1a1a1a">11</text>
<rect x="573.85" y="243.05" width="96.2" height="9.05" fill="#939598"/>
<text x="671" y="250.78" font-size="8.4" fill="#1a1a1a">1</text>
<rect x="573.85" y="253.73" width="79.2" height="9.05" fill="#939598"/>
<text x="654" y="261.46" font-size="8.4" fill="#1a1a1a">2</text>
<rect x="573.85" y="264.42" width="54.4" height="9.05" fill="#939598"/>
<text x="629.2" y="272.14" font-size="8.4" fill="#1a1a1a">5</text>
<rect x="573.85" y="275.1" width="56" height="9.05" fill="#939598"/>
<text x="630.8" y="282.82" font-size="8.4" fill="#1a1a1a">4</text>
<rect x="573.85" y="285.78" width="51.6" height="9.05" fill="#939598"/>
<text x="626.4" y="293.5" font-size="8.4" fill="#1a1a1a">6</text>
<rect x="573.85" y="296.46" width="40.4" height="9.05" fill="#939598"/>
<text x="616.65" y="304.18" font-size="8.4" fill="#1a1a1a">10</text>
<rect x="568.3" y="177.3" width="116.4" height="129.9" fill="none" stroke="#333333" stroke-width="0.5"/>
<line x1="593.02" x2="593.02" y1="307.2" y2="309.7" stroke="#333333" stroke-width="0.75"/>
<text x="593.02" y="317.7" font-size="8.2" fill="#555555" text-anchor="middle">0.2</text>
<line x1="631.66" x2="631.66" y1="307.2" y2="309.7" stroke="#333333" stroke-width="0.75"/>
<text x="631.66" y="317.7" font-size="8.2" fill="#555555" text-anchor="middle">0.6</text>
<line x1="670.3" x2="670.3" y1="307.2" y2="309.7" stroke="#333333" stroke-width="0.75"/>
<text x="670.3" y="317.7" font-size="8.2" fill="#555555" text-anchor="middle">1.0</text>
<text x="626.5" y="25.3" font-size="8.25" fill="#1a1a1a" text-anchor="middle">Southern Africa</text>
<text x="83.3" y="6.7" font-size="9.5" fill="#000">(a) Wood fuel</text>
<text x="83.3" y="168.9" font-size="9.5" fill="#000">(b) Charcoal</text>
<text x="302.3" y="327.8" font-size="9.57" fill="#000">Relative permutation importance score</text>
</svg>
</body></html>
